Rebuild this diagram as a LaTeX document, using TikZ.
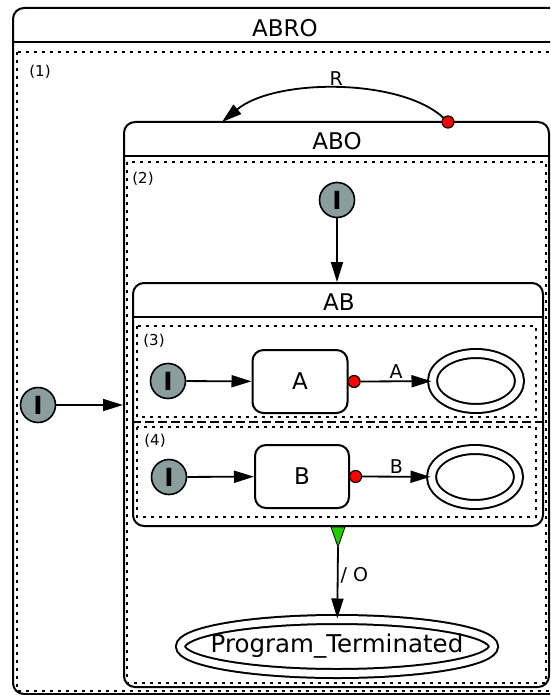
\documentclass[tikz,border=0pt]{standalone}
\usepackage{fontspec}
\setmainfont{DejaVu Sans}
\usetikzlibrary{arrows.meta,calc,positioning,shapes.geometric}
\definecolor{tinta}{HTML}{000000}
\definecolor{gris}{HTML}{8A9E9E}
\definecolor{rojo}{HTML}{FF0000}
\definecolor{verde}{HTML}{22CC00}
\tikzset{
  macro/.style={rectangle,draw=tinta,line width=2pt,rounded corners=11pt,inner sep=0pt},
  region/.style={draw=tinta,line width=1.6pt,dash pattern=on 3pt off 5pt},
  separador/.style={draw=tinta,line width=1.6pt,dash pattern=on 9pt off 4pt},
  inicial/.style={circle,draw=tinta,fill=gris,line width=1.6pt,inner sep=0pt,minimum size=35pt,font=\fontsize{25}{25}\selectfont\bfseries},
  estado/.style={rectangle,draw=tinta,line width=2pt,rounded corners=11pt,minimum width=95pt,minimum height=63pt,font=\fontsize{23}{23}\selectfont},
  final/.style={ellipse,draw=tinta,line width=2pt,double,double distance=7pt,minimum width=87pt,minimum height=55pt,inner sep=0pt},
  salida/.style={circle,draw=tinta,fill=rojo,line width=1.2pt,inner sep=0pt,minimum size=12pt},
  transicion/.style={draw=tinta,line width=1.8pt,-{Triangle[length=20pt,width=12pt]}},
  titulo/.style={font=\fontsize{23}{23}\selectfont,inner sep=0pt},
  evento/.style={font=\fontsize{19}{19}\selectfont,inner sep=2pt},
  indice/.style={font=\fontsize{15}{15}\selectfont,inner sep=0pt},
}
\begin{document}
\begin{tikzpicture}[x=1pt,y=-1pt]
\useasboundingbox (0,0) rectangle (550,695);
% ABRO
\begin{scope}
\clip (0,0) rectangle (550,695);
\node[macro,minimum width=587pt,minimum height=686pt] (abro) at (306.5,351) {};
\draw[line width=2pt] ($(abro.north west)+(0,35)$) -- ($(abro.north east)+(0,35)$);
\draw[region] (17,52) rectangle (580,691);
\end{scope}
\node[titulo] (abrot) at (285,28) {ABRO};
\node[indice] (n1) at (40,72) {(1)};
% ABO
\node[macro,minimum width=425pt,minimum height=565pt] (abo) at (336.5,404.5) {};
\draw[line width=2pt] ($(abo.north west)+(0,35)$) -- ($(abo.north east)+(0,35)$);
\node[titulo] (abot) at (337,141) {ABO};
\draw[region] (127,162) rectangle (546,683);
\node[indice] (n2) at (143,179) {(2)};
% AB
\node[macro,minimum width=410pt,minimum height=243pt] (ab) at (338,404.5) {};
\draw[line width=2pt] ($(ab.north west)+(0,35)$) -- ($(ab.north east)+(0,35)$);
\node[titulo] (abt) at (339,302) {AB};
\draw[region] (137,326) rectangle (536,417);
\draw[separador] ($(ab.west)+(0,17.5)$) -- ($(ab.east)+(0,17.5)$);
\draw[region] (137,427) rectangle (536,517);
\node[indice] (n3) at (154,341) {(3)};
\node[indice] (n4) at (155,441) {(4)};
% estados
\node[inicial] (i1) at (38,405) {I};
\draw[transicion] (i1) -- (i1 -| abo.west);
\node[inicial] (i2) at (337,200) {I};
\draw[transicion] (i2) -- (i2 |- ab.north);
\node[inicial] (i3) at (168,381) {I};
\node[estado] (a) at (300,381.5) {A};
\draw[transicion] (i3) -- (a);
\node[salida,right=-1pt of a] (sa) {};
\node[final] (fa) at (476,381) {};
\draw[transicion] (sa) -- node[evento,above] {A} (fa);
\node[inicial] (i4) at (169,477) {I};
\node[estado,minimum width=94pt] (b) at (302,476.5) {B};
\draw[transicion] (i4) -- (b);
\node[salida,right=-1pt of b] (sb) {};
\node[final] (fb) at (475,477) {};
\draw[transicion] (sb) -- node[evento,above] {B} (fb);
% R
\node[salida] (sr) at (448,122) {};
\coordinate (rin) at (222,122);
\draw[transicion] (sr) .. controls (400,78) and (275,78) .. node[evento,above] {R} (rin);
% salida normal
\coordinate (abx) at (ab.south);
\filldraw[fill=verde,draw=tinta,line width=0.8pt] ($(abx)+(-7,0)$) -- ($(abx)+(7,0)$) -- ($(abx)+(0,20)$) coordinate (abv) -- cycle;
\node[final,minimum width=313pt,minimum height=54pt] (pt) at (337,646.5) {};
\node[titulo,font=\fontsize{24.5}{24.5}\selectfont] (ptt) at (pt) {Program\_Terminated};
\draw[transicion] (abv) -- node[evento,right,pos=0.4] {/ O} (pt);
\end{tikzpicture}
\end{document}
